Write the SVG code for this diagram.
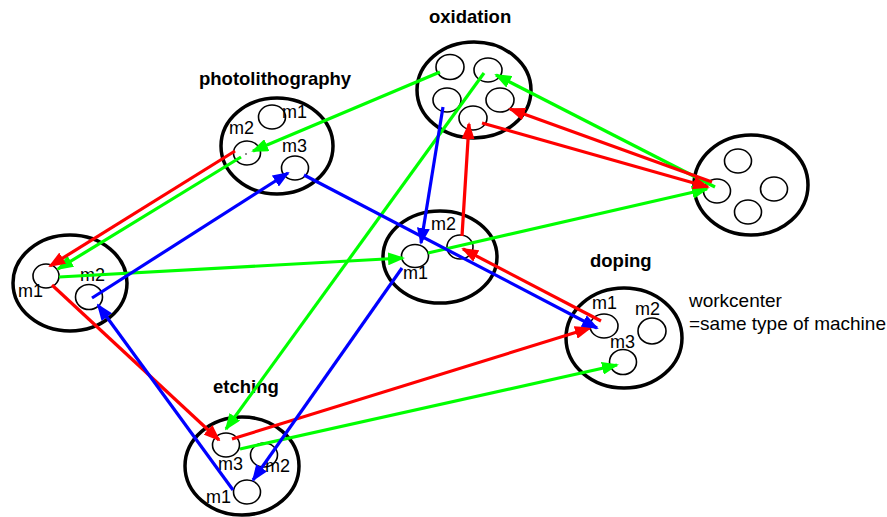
<svg xmlns="http://www.w3.org/2000/svg" width="887" height="517" viewBox="0 0 887 517">
<style>
.wc{fill:none;stroke:#000;stroke-width:3.5}
.m{fill:none;stroke:#000;stroke-width:1.6}
.t{font-family:"Liberation Sans",Arial,sans-serif;font-size:18px;fill:#000}
.b{font-weight:bold;font-size:18.5px}
.l{font-size:19px}
.r{stroke:#ff0000;stroke-width:3.2;fill:none;marker-end:url(#ar)}
.g{stroke:#00ff00;stroke-width:3.2;fill:none;marker-end:url(#ag)}
.u{stroke:#0000ff;stroke-width:3.2;fill:none;marker-end:url(#ab)}
</style>
<defs>
<marker id="ar" markerUnits="userSpaceOnUse" markerWidth="17" markerHeight="13" refX="15" refY="6.5" orient="auto"><path d="M0,0 L17,6.5 L0,13 z" fill="#ff0000"/></marker>
<marker id="ag" markerUnits="userSpaceOnUse" markerWidth="17" markerHeight="13" refX="15" refY="6.5" orient="auto"><path d="M0,0 L17,6.5 L0,13 z" fill="#00ff00"/></marker>
<marker id="ab" markerUnits="userSpaceOnUse" markerWidth="17" markerHeight="13" refX="15" refY="6.5" orient="auto"><path d="M0,0 L17,6.5 L0,13 z" fill="#0000ff"/></marker>
</defs>
<rect width="887" height="517" fill="#fff"/>

<g id="photolithography">
<ellipse class="wc" cx="277" cy="146" rx="56" ry="48"/>
<ellipse class="m" cx="272" cy="117" rx="13.5" ry="12"/>
<ellipse class="m" cx="247" cy="153" rx="13.5" ry="12"/>
<circle cx="246" cy="154" r="0.8" fill="#000"/>
<ellipse class="m" cx="295" cy="168" rx="13.5" ry="12"/>
<text class="t b" x="199" y="85">photolithography</text>
<text class="t" x="282" y="118">m1</text>
<text class="t" x="229" y="134">m2</text>
<text class="t" x="282" y="152">m3</text>
</g>

<g id="oxidation">
<ellipse class="wc" cx="474" cy="90" rx="57" ry="48"/>
<ellipse class="m" cx="450" cy="67" rx="14" ry="12.5"/>
<ellipse class="m" cx="488" cy="70" rx="14" ry="12"/>
<ellipse class="m" cx="447" cy="100" rx="14" ry="12"/>
<ellipse class="m" cx="500" cy="100" rx="14" ry="12"/>
<ellipse class="m" cx="473" cy="118" rx="14" ry="12"/>
<text class="t b" x="429" y="23">oxidation</text>
</g>

<g id="workcenter-right">
<ellipse class="wc" cx="751" cy="185" rx="57" ry="50"/>
<ellipse class="m" cx="738" cy="161" rx="13.5" ry="12"/>
<ellipse class="m" cx="717" cy="191" rx="13.5" ry="12"/>
<ellipse class="m" cx="774" cy="189" rx="13.5" ry="12"/>
<ellipse class="m" cx="748" cy="212" rx="13.5" ry="12"/>
</g>

<g id="workcenter-left">
<ellipse class="wc" cx="70" cy="283" rx="57" ry="48"/>
<ellipse class="m" cx="46" cy="276" rx="13" ry="12"/>
<ellipse class="m" cx="89" cy="297" rx="13.5" ry="12.5"/>
<text class="t" x="18" y="297">m1</text>
<text class="t" x="80" y="281">m2</text>
</g>

<g id="workcenter-center">
<ellipse class="wc" cx="440" cy="257" rx="57" ry="46"/>
<ellipse class="m" cx="415" cy="256" rx="13.5" ry="11.5"/>
<ellipse class="m" cx="460" cy="247" rx="13" ry="12"/>
<text class="t" x="403" y="279">m1</text>
<text class="t" x="431" y="230">m2</text>
</g>

<g id="doping">
<ellipse class="wc" cx="624" cy="338" rx="58" ry="50"/>
<ellipse class="m" cx="604" cy="326" rx="14" ry="12"/>
<ellipse class="m" cx="652" cy="331" rx="14" ry="13"/>
<ellipse class="m" cx="623" cy="362" rx="13.5" ry="12.5"/>
<text class="t b" x="590" y="267">doping</text>
<text class="t" x="592" y="309">m1</text>
<text class="t" x="635" y="315">m2</text>
<text class="t" x="610" y="348">m3</text>
</g>

<g id="etching">
<ellipse class="wc" cx="242" cy="466" rx="57" ry="49"/>
<ellipse class="m" cx="226" cy="445" rx="13.5" ry="12"/>
<ellipse class="m" cx="264" cy="455" rx="13.5" ry="12"/>
<ellipse class="m" cx="247" cy="492" rx="13.5" ry="12"/>
<text class="t b" x="213" y="393">etching</text>
<text class="t" x="218" y="470">m3</text>
<text class="t" x="265" y="472">m2</text>
<text class="t" x="206" y="503">m1</text>
</g>

<g id="legend">
<text class="t l" x="689" y="307">workcenter</text>
<text class="t l" x="689" y="330">=same type of machine</text>
</g>

<g id="connectors">
<line class="g" x1="440" y1="72" x2="253" y2="151"/>
<line class="g" x1="241" y1="157" x2="58" y2="269"/>
<line class="g" x1="59" y1="277" x2="403" y2="258"/>
<line class="g" x1="428" y1="253" x2="707" y2="189"/>
<line class="g" x1="715" y1="187" x2="496" y2="75"/>
<line class="g" x1="484" y1="73" x2="226" y2="429"/>
<line class="g" x1="240" y1="449" x2="617" y2="365"/>
<line class="r" x1="235" y1="151" x2="50" y2="266"/>
<line class="r" x1="52" y1="285" x2="219" y2="440"/>
<line class="r" x1="232" y1="439" x2="590" y2="328"/>
<line class="r" x1="601" y1="321" x2="463" y2="249"/>
<line class="r" x1="462" y1="236" x2="469" y2="124"/>
<line class="r" x1="482" y1="123" x2="708" y2="187"/>
<line class="r" x1="712" y1="182" x2="510" y2="109"/>
<line class="u" x1="443" y1="107" x2="421" y2="243"/>
<line class="u" x1="402" y1="268" x2="253" y2="480"/>
<line class="u" x1="233" y1="490" x2="98" y2="305"/>
<line class="u" x1="92" y1="298" x2="288" y2="173"/>
<line class="u" x1="304" y1="175" x2="597" y2="328"/>
</g>
</svg>
